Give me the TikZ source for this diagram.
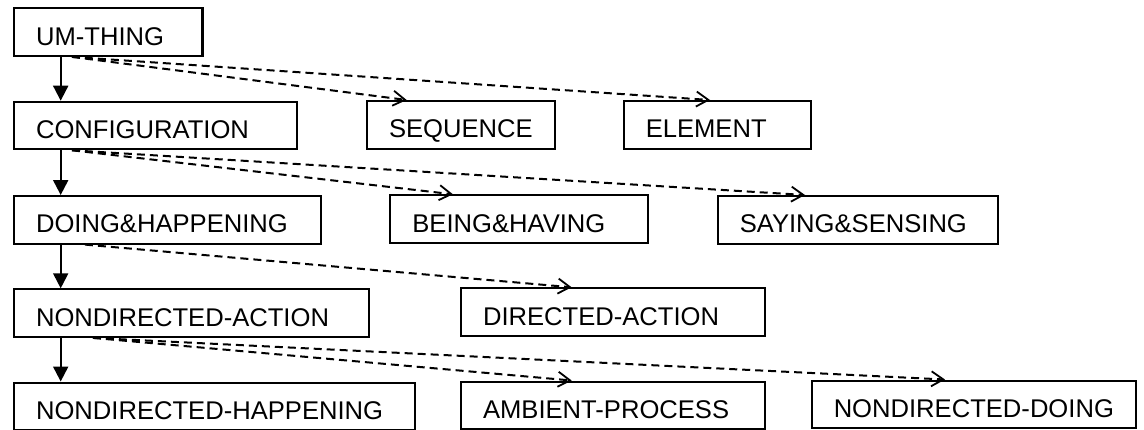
\documentclass[tikz,border=0pt]{standalone}
\usepackage{fontspec}
\setmainfont{Liberation Sans}
\usetikzlibrary{arrows.meta,calc}

\tikzset{
  box/.style={draw, line width=2.1pt, anchor=north west, align=left,
    minimum height=47.5pt, inner xsep=22pt, inner ysep=0pt,
    text width=#1, text height=26pt, text depth=0pt,
    font=\fontsize{25.6pt}{30pt}\selectfont},
  isa/.style={line width=2pt, -{Triangle[length=15pt,width=15pt]}},
  alt/.style={line width=2pt, dash pattern=on 8pt off 5pt,
    -{Straight Barb[length=12pt,width=15pt,line width=1.8pt]}}
}

\begin{document}
\begin{tikzpicture}[x=1pt,y=-1pt]
  \useasboundingbox[fill=white] (0,0) rectangle (1144,429);

  % classes, row by row
  \node[box=144.4pt] (um)   at (13,7.3)     {\mbox{UM-THING}};
  \node[box=239pt]   (cfg)  at (13,100.7)   {\mbox{CONFIGURATION}};
  \node[box=144pt]   (seq)  at (366,100)    {\mbox{SEQUENCE}};
  \node[box=143.3pt] (elt)  at (622.7,100)  {\mbox{ELEMENT}};
  \node[box=263pt]   (dh)   at (13,195)     {\mbox{DOING\&HAPPENING}};
  \node[box=214pt]   (bh)   at (389.3,194.3){\mbox{BEING\&HAVING}};
  \node[box=236pt]   (ss)   at (716.7,195)  {\mbox{SAYING\&SENSING}};
  \node[box=310.7pt] (nda)  at (13,288.3)   {\mbox{NONDIRECTED-ACTION}};
  \node[box=260pt]   (da)   at (460,287.3)  {\mbox{DIRECTED-ACTION}};
  \node[box=357pt]   (ndh)  at (13,381.5)   {\mbox{NONDIRECTED-HAPPENING}};
  \node[box=260pt]   (ap)   at (460,380.5)  {\mbox{AMBIENT-PROCESS}};
  \node[box=280pt]   (ndd)  at (810.7,379.5){\mbox{NONDIRECTED-DOING}};

  % subsumption chain on the left
  \draw[isa] ($(um.south west)+(47.7,0)$)  -- ($(cfg.north west)+(47.7,0)$);
  \draw[isa] ($(cfg.south west)+(47.7,0)$) -- ($(dh.north west)+(47.7,0)$);
  \draw[isa] ($(dh.south west)+(47.7,0)$)  -- ($(nda.north west)+(47.7,0)$);
  \draw[isa] ($(nda.south west)+(47.7,0)$) -- ($(ndh.north west)+(47.7,0)$);

  % alternatives
  \draw[alt] ($(um.south west)+(59,0)$)  -- ($(seq.north west)+(40.7,0)$);
  \draw[alt] ($(um.south west)+(59,0)$)  -- ($(elt.north west)+(87.3,0)$);
  \draw[alt] ($(cfg.south west)+(59,0)$) -- ($(bh.north west)+(63.7,0)$);
  \draw[alt] ($(cfg.south west)+(59,0)$) -- ($(ss.north west)+(88.3,0)$);
  \draw[alt] ($(dh.south west)+(72,0)$)  -- ($(da.north west)+(111.7,0)$);
  \draw[alt] ($(nda.south west)+(80,0)$) -- ($(ap.north west)+(111.7,0)$);
  \draw[alt] ($(nda.south west)+(80,0)$) -- ($(ndd.north west)+(134.3,0)$);
\end{tikzpicture}
\end{document}
